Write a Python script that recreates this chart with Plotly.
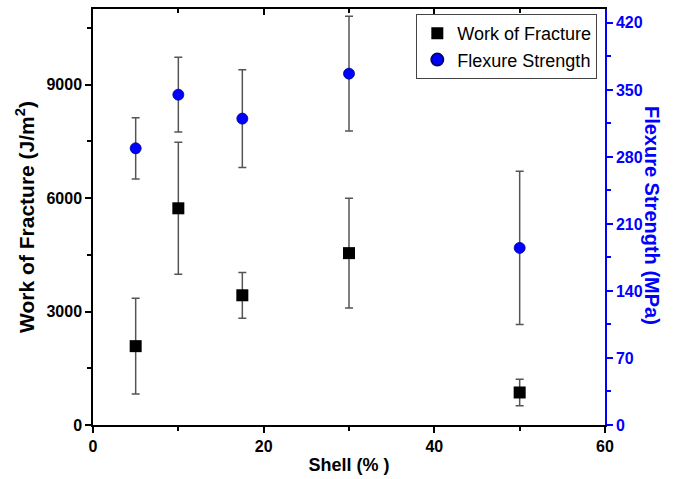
import plotly.graph_objects as go

shell = [5, 10, 17.5, 30, 50]
wof = [2085, 5730, 3430, 4545, 860]
wof_err = [1265, 1745, 605, 1450, 350]
flex = [289, 345, 320, 367, 185]
flex_err = [32, 39, 51, 60, 80]

x_ticks = [0, 20, 40, 60]
wof_ticks = [0, 3000, 6000, 9000]
flex_ticks = [0, 70, 140, 210, 280, 350, 420]

FONT = "Liberation Sans, Arial, sans-serif"

fig = go.Figure()
fig.add_trace(go.Scatter(
    x=shell, y=wof, mode="markers", name="Work of Fracture",
    marker=dict(symbol="square", size=12, color="black"),
    error_y=dict(type="data", array=wof_err, color="#555555", thickness=1.5, width=4),
    yaxis="y"))
fig.add_trace(go.Scatter(
    x=shell, y=flex, mode="markers", name="Flexure Strength",
    marker=dict(symbol="circle", size=11, color="#0000FF", line=dict(color="#000080", width=0.8)),
    error_y=dict(type="data", array=flex_err, color="#555555", thickness=1.5, width=4),
    yaxis="y2"))

def bold(v):
    return ["<b>%s</b>" % t for t in v]

fig.update_layout(
    width=688, height=479,
    margin=dict(l=93, r=83, t=7, b=54),
    plot_bgcolor="white", paper_bgcolor="white",
    showlegend=True,
    legend=dict(x=0.985, y=0.988, xanchor="right", yanchor="top",
                bgcolor="white", bordercolor="#444444", borderwidth=1,
                font=dict(family=FONT, size=18, color="black"),
                itemsizing="constant", tracegroupgap=0),
    xaxis=dict(range=[0, 60], tickvals=x_ticks, ticktext=bold(x_ticks), showgrid=False, zeroline=False,
               showline=True, linecolor="black", linewidth=1.5, mirror=True,
               ticks="outside", ticklen=6, tickwidth=1.5, tickcolor="black",
               minor=dict(dtick=10, ticks="outside", ticklen=4, tickwidth=1.5, tickcolor="black"),
               tickfont=dict(family=FONT, size=16, color="black"),
               title=dict(text="<b>Shell (% )</b>", font=dict(family=FONT, size=18, color="black"), standoff=4)),
    xaxis2=dict(range=[0, 60], overlaying="x", side="top", dtick=20, tick0=0, showgrid=False,
                zeroline=False, showline=False, showticklabels=False,
                ticks="inside", ticklen=6, tickwidth=1.5, tickcolor="black",
                minor=dict(dtick=10, ticks="inside", ticklen=4, tickwidth=1.5, tickcolor="black")),
    yaxis=dict(range=[0, 11000], tickvals=wof_ticks, ticktext=bold(wof_ticks), showgrid=False, zeroline=False,
               showline=True, linecolor="black", linewidth=1.5,
               ticks="outside", ticklen=6, tickwidth=1.5, tickcolor="black",
               minor=dict(dtick=1500, ticks="outside", ticklen=4, tickwidth=1.5, tickcolor="black"),
               tickfont=dict(family=FONT, size=16, color="black"),
               title=dict(text="<b>Work of Fracture (J/m<sup>2</sup>)</b>",
                          font=dict(family=FONT, size=21, color="black"), standoff=6)),
    yaxis2=dict(range=[0, 434.5], tickvals=flex_ticks, ticktext=bold(flex_ticks), overlaying="y", side="right",
                showgrid=False, zeroline=False,
                showline=True, linecolor="#0000FF", linewidth=1.5,
                ticks="outside", ticklen=6, tickwidth=1.5, tickcolor="#0000FF",
                minor=dict(dtick=35, ticks="outside", ticklen=4, tickwidth=1.5, tickcolor="#0000FF"),
                tickfont=dict(family=FONT, size=16, color="#0000FF")),
    annotations=[dict(text="<b>Flexure Strength (MPa)</b>", xref="paper", yref="paper",
                      x=1, y=0.505, xshift=60, showarrow=False, textangle=90,
                      font=dict(family=FONT, size=20, color="#0000FF"))],
)
fig.add_trace(go.Scatter(x=[None], y=[None], xaxis="x2", showlegend=False, hoverinfo="skip"))

fig.write_html("out.html")
